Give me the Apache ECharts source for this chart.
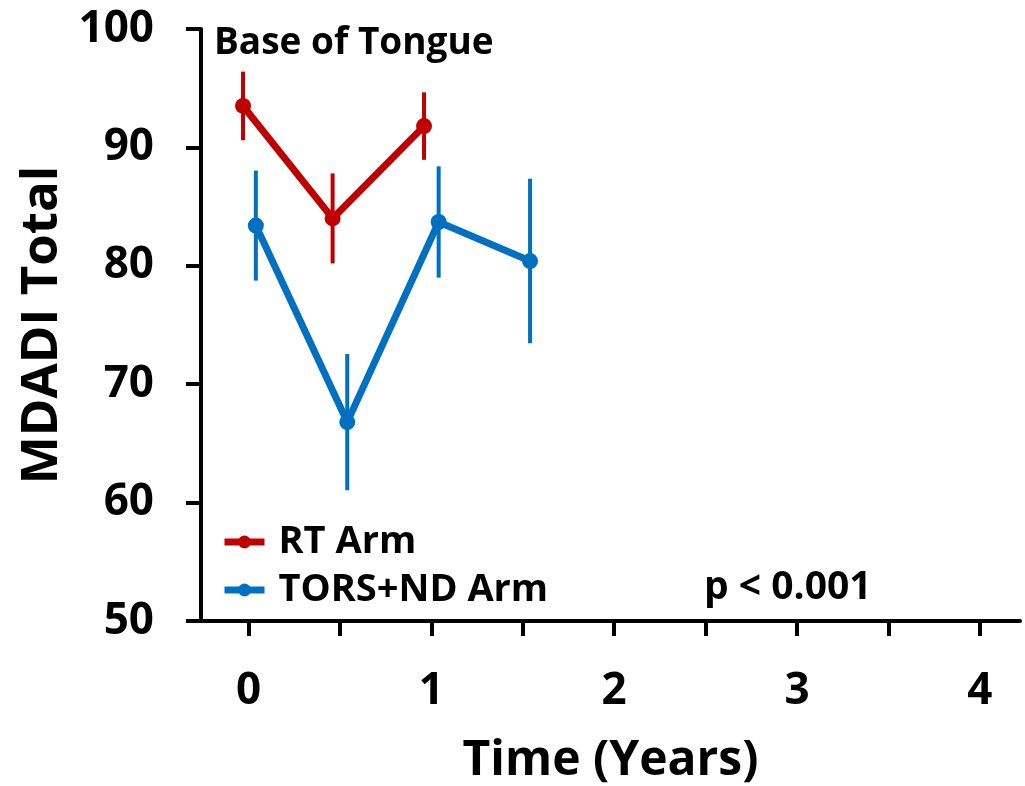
<!DOCTYPE html>
<html>
<head>
<meta charset="utf-8">
<script src="https://cdn.jsdelivr.net/npm/echarts@6/dist/echarts.min.js"></script>
<style>
  html, body { margin: 0; padding: 0; background: #fff; }
  #chart { width: 1025px; height: 786px; }
</style>
</head>
<body>
<div id="chart"></div>
<script>
// values (small jitter on x as in the original)
var rtX = [-0.03, 0.46, 0.96];
var rtMean = [93.5, 84.0, 91.8];
var rtErr = [2.9, 3.8, 2.85];
var torsX = [0.04, 0.54, 1.04, 1.54];
var torsMean = [83.4, 66.8, 83.7, 80.4];
var torsErr = [4.65, 5.75, 4.7, 6.95];
var xTicks = [0, 0.5, 1, 1.5, 2, 2.5, 3, 3.5, 4];
var xLabels = [0, 1, 2, 3, 4];

var RED = '#C00000';
var BLUE = '#0070C0';
var FONT = 'Open Sans';

function points(xs, ys) {
    return xs.map(function (x, i) { return [x, ys[i]]; });
}
function bars(xs, ys, es) {
    return xs.map(function (x, i) { return [x, ys[i] - es[i], ys[i] + es[i]]; });
}
function errorBar(color) {
    return function (params, api) {
        var lo = api.coord([api.value(0), api.value(1)]);
        var hi = api.coord([api.value(0), api.value(2)]);
        return {
            type: 'line',
            shape: { x1: lo[0], y1: lo[1], x2: hi[0], y2: hi[1] },
            style: { stroke: color, lineWidth: 4 }
        };
    };
}

var myChart = echarts.init(document.getElementById('chart'));
var option = {
    animation: false,
    textStyle: { fontFamily: FONT },
    grid: { left: 201, right: 5, top: 29, bottom: 165, outerBoundsMode: 'none' },
    legend: {
        orient: 'vertical',
        left: 216,
        top: 516,
        itemWidth: 40,
        itemHeight: 16,
        itemGap: 6,
        data: ['RT Arm', 'TORS+ND Arm'],
        lineStyle: { width: 7 },
        textStyle: {
            fontFamily: FONT, fontWeight: 'bold', fontSize: 38, color: '#000',
            lineHeight: 42, padding: [0, 0, 0, 9]
        }
    },
    xAxis: {
        type: 'value',
        min: -0.26,
        max: 4.22,
        name: 'Time (Years)',
        nameLocation: 'middle',
        nameGap: 116,
        nameTextStyle: { fontFamily: FONT, fontWeight: 'bold', fontSize: 48, color: '#000' },
        splitLine: { show: false },
        axisLine: { onZero: false, lineStyle: { color: '#000', width: 4 } },
        axisTick: { customValues: xTicks, length: 15, lineStyle: { color: '#000', width: 4 } },
        axisLabel: {
            customValues: xLabels,
            margin: 48,
            fontFamily: FONT, fontWeight: 'bold', fontSize: 44, color: '#000'
        }
    },
    yAxis: {
        type: 'value',
        min: 50,
        max: 100,
        interval: 10,
        name: 'MDADI Total',
        nameLocation: 'middle',
        nameRotate: 90,
        nameGap: 130,
        nameTextStyle: { fontFamily: FONT, fontWeight: 'bold', fontSize: 51, color: '#000' },
        splitLine: { show: false },
        axisLine: { show: true, onZero: false, lineStyle: { color: '#000', width: 4 } },
        axisTick: { show: true, length: 15, lineStyle: { color: '#000', width: 4 } },
        axisLabel: { margin: 47, fontFamily: FONT, fontWeight: 'bold', fontSize: 44, color: '#000' }
    },
    graphic: [
        {
            type: 'text', left: 214, top: 25,
            style: { text: 'Base of Tongue', font: 'bold 37px "Open Sans"', fill: '#000' }
        },
        {
            type: 'text', left: 704, top: 568,
            style: { text: 'p < 0.001', font: 'bold 39px "Open Sans"', fill: '#000' }
        }
    ],
    series: [
        {
            name: 'RT Arm err',
            type: 'custom',
            renderItem: errorBar(RED),
            data: bars(rtX, rtMean, rtErr),
            z: 1
        },
        {
            name: 'TORS+ND Arm err',
            type: 'custom',
            renderItem: errorBar(BLUE),
            data: bars(torsX, torsMean, torsErr),
            z: 1
        },
        {
            name: 'RT Arm',
            type: 'line',
            data: points(rtX, rtMean),
            symbol: 'circle',
            symbolSize: 16,
            itemStyle: { color: RED },
            lineStyle: { color: RED, width: 7 },
            z: 3
        },
        {
            name: 'TORS+ND Arm',
            type: 'line',
            data: points(torsX, torsMean),
            symbol: 'circle',
            symbolSize: 16,
            itemStyle: { color: BLUE },
            lineStyle: { color: BLUE, width: 7 },
            z: 3
        }
    ]
};
myChart.setOption(option);
</script>
</body>
</html>
